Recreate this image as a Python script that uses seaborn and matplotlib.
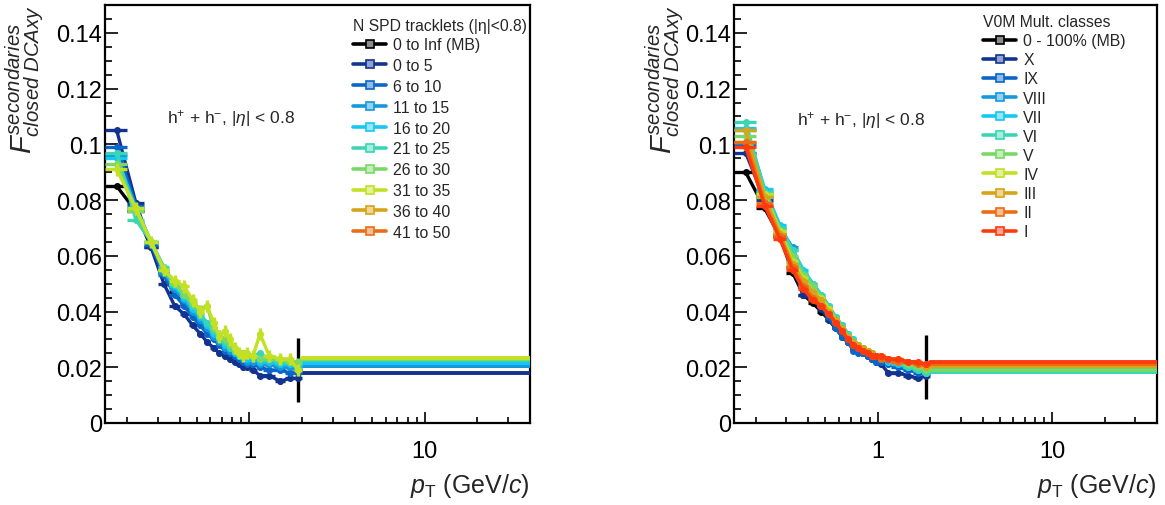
import numpy as np
import pandas as pd
import matplotlib
matplotlib.use("Agg")
import matplotlib.pyplot as plt
import seaborn as sns
from matplotlib.lines import Line2D
from matplotlib.ticker import FixedLocator, MultipleLocator, FuncFormatter, NullFormatter

# ---------------- data ----------------
pt_edges = [0.15, 0.2, 0.25, 0.3, 0.35, 0.4, 0.45, 0.5, 0.55, 0.6, 0.65, 0.7, 0.75,
            0.8, 0.85, 0.9, 0.95, 1.0, 1.1, 1.2, 1.4, 1.6, 1.8, 2.0]
flat_range = [2.0, 40.0]

spd_labels = ["0 to Inf (MB)", "0 to 5", "6 to 10", "11 to 15", "16 to 20", "21 to 25",
              "26 to 30", "31 to 35", "36 to 40", "41 to 50"]
spd_mb   = [0.085, 0.076, 0.063, 0.054, 0.047, 0.043, 0.039, 0.036, 0.033, 0.031, 0.029, 0.027,
            0.026, 0.025, 0.024, 0.023, 0.022, 0.022, 0.021, 0.021, 0.020, 0.020, 0.019]
spd_0_5  = [0.105, 0.079, 0.063, 0.050, 0.042, 0.039, 0.035, 0.032, 0.029, 0.027, 0.025, 0.024,
            0.023, 0.022, 0.021, 0.020, 0.020, 0.019, 0.017, 0.017, 0.015, 0.016, 0.016]
spd_6_10 = [0.099, 0.078, 0.064, 0.053, 0.046, 0.042, 0.038, 0.035, 0.032, 0.030, 0.028, 0.026,
            0.025, 0.024, 0.023, 0.022, 0.021, 0.021, 0.020, 0.019, 0.019, 0.018, 0.018]
spd_11_15 = [0.096, 0.077, 0.065, 0.054, 0.048, 0.044, 0.040, 0.037, 0.034, 0.031, 0.029, 0.027,
             0.026, 0.025, 0.024, 0.023, 0.022, 0.022, 0.021, 0.021, 0.020, 0.020, 0.019]
spd_16_20 = [0.095, 0.077, 0.065, 0.055, 0.049, 0.045, 0.041, 0.038, 0.035, 0.032, 0.030, 0.028,
             0.027, 0.025, 0.024, 0.024, 0.023, 0.023, 0.022, 0.022, 0.021, 0.021, 0.020]
spd_21_25 = [0.097, 0.073, 0.065, 0.056, 0.050, 0.046, 0.042, 0.039, 0.036, 0.033, 0.031, 0.029,
             0.027, 0.026, 0.025, 0.025, 0.024, 0.024, 0.025, 0.023, 0.022, 0.022, 0.021]
spd_26_30 = [0.093, 0.076, 0.065, 0.055, 0.050, 0.046, 0.043, 0.041, 0.042, 0.034, 0.032, 0.030,
             0.028, 0.026, 0.025, 0.025, 0.024, 0.024, 0.023, 0.023, 0.023, 0.022, 0.022]
spd_31_35 = [0.091, 0.077, 0.065, 0.055, 0.051, 0.049, 0.044, 0.040, 0.042, 0.036, 0.031, 0.033,
             0.030, 0.027, 0.025, 0.024, 0.025, 0.024, 0.032, 0.024, 0.023, 0.023, 0.019]
spd_36_40 = []
spd_41_50 = []
spd_flat = [0.0205, 0.0178, 0.0205, 0.0205, 0.0215, 0.0225, 0.0230, 0.0233, None, None]
spd_err  = [0.0008, 0.0010, 0.0009, 0.0008, 0.0008, 0.0010, 0.0012, 0.0022, 0, 0]
mb_last_err = 0.0115

v0m_labels = ["0 - 100% (MB)", "X", "IX", "VIII", "VII", "VI", "V", "IV", "III", "II", "I"]
v0m_mb   = [0.090, 0.077, 0.067, 0.054, 0.046, 0.043, 0.040, 0.037, 0.034, 0.031, 0.029, 0.027,
            0.026, 0.025, 0.024, 0.023, 0.023, 0.022, 0.022, 0.021, 0.021, 0.020, 0.020]
v0m_X    = [0.097, 0.080, 0.067, 0.056, 0.046, 0.044, 0.041, 0.037, 0.034, 0.032, 0.029, 0.027,
            0.026, 0.025, 0.024, 0.023, 0.022, 0.021, 0.018, 0.018, 0.017, 0.016, 0.017]
v0m_IX   = [0.100, 0.081, 0.068, 0.058, 0.050, 0.046, 0.042, 0.038, 0.034, 0.031, 0.029, 0.026,
            0.025, 0.025, 0.024, 0.023, 0.022, 0.022, 0.021, 0.020, 0.019, 0.018, 0.018]
v0m_VIII = [0.105, 0.083, 0.070, 0.063, 0.053, 0.049, 0.045, 0.041, 0.037, 0.035, 0.032, 0.029,
            0.028, 0.027, 0.026, 0.025, 0.024, 0.023, 0.022, 0.021, 0.020, 0.019, 0.018]
v0m_VII  = [0.106, 0.084, 0.071, 0.062, 0.055, 0.050, 0.046, 0.042, 0.038, 0.035, 0.032, 0.030,
            0.028, 0.027, 0.026, 0.025, 0.024, 0.023, 0.022, 0.021, 0.020, 0.019, 0.018]
v0m_VI   = [0.108, 0.083, 0.070, 0.062, 0.054, 0.050, 0.046, 0.042, 0.038, 0.035, 0.032, 0.030,
            0.028, 0.027, 0.026, 0.025, 0.024, 0.024, 0.023, 0.022, 0.020, 0.019, 0.018]
v0m_V    = [0.103, 0.082, 0.069, 0.060, 0.053, 0.049, 0.045, 0.041, 0.037, 0.034, 0.031, 0.029,
            0.028, 0.027, 0.026, 0.025, 0.024, 0.024, 0.023, 0.022, 0.021, 0.020, 0.019]
v0m_IV   = [0.101, 0.082, 0.069, 0.058, 0.052, 0.047, 0.045, 0.041, 0.037, 0.034, 0.031, 0.029,
            0.028, 0.027, 0.026, 0.025, 0.024, 0.024, 0.023, 0.023, 0.022, 0.021, 0.020]
v0m_III  = [0.105, 0.081, 0.068, 0.057, 0.051, 0.047, 0.044, 0.040, 0.037, 0.034, 0.031, 0.029,
            0.028, 0.027, 0.026, 0.025, 0.024, 0.024, 0.023, 0.022, 0.022, 0.021, 0.020]
v0m_II   = [0.101, 0.079, 0.067, 0.056, 0.049, 0.045, 0.042, 0.039, 0.036, 0.033, 0.030, 0.028,
            0.027, 0.026, 0.025, 0.024, 0.024, 0.023, 0.023, 0.022, 0.022, 0.021, 0.021]
v0m_I    = [0.099, 0.078, 0.066, 0.055, 0.048, 0.044, 0.042, 0.039, 0.036, 0.033, 0.030, 0.028,
            0.027, 0.026, 0.025, 0.024, 0.024, 0.024, 0.023, 0.023, 0.022, 0.022, 0.021]
v0m_flat = [0.0195, 0.0190, 0.0185, 0.0185, 0.0183, 0.0183, 0.0190, 0.0205, 0.0205, 0.0210, 0.0220]
v0m_err  = [0.0008, 0.0009, 0.0008, 0.0008, 0.0008, 0.0008, 0.0008, 0.0009, 0.0009, 0.0009, 0.0010]

palette_spd = ["#000000", "#12338f", "#0a66c8", "#1598dc", "#14c8f2", "#3ad6b4",
               "#7ad866", "#c2e024", "#d6a418", "#ec6c16"]
palette_v0m = ["#000000", "#12338f", "#0a66c8", "#1598dc", "#14c8f2", "#3ad6b4",
               "#7ad866", "#c2e024", "#d6a418", "#ec6c16", "#ff3a0e"]

# ---------------- style ----------------
sns.set_theme(style="ticks")
plt.rcParams["font.family"] = ["Liberation Sans", "DejaVu Sans"]
plt.rcParams["mathtext.fontset"] = "custom"
plt.rcParams["mathtext.rm"] = "Liberation Sans"
plt.rcParams["mathtext.it"] = "Liberation Sans:italic"
plt.rcParams["mathtext.bf"] = "Liberation Sans:bold"

edges = np.array(pt_edges)
centers = 0.5 * (edges[1:] + edges[:-1])
halfw = 0.5 * (edges[1:] - edges[:-1])

W, H = 1165, 506
fig = plt.figure(figsize=(W / 100, H / 100), dpi=100)
ax1 = fig.add_axes([105 / W, (H - 424) / H, 425 / W, 418 / H])
ax2 = fig.add_axes([734 / W, (H - 424) / H, 423 / W, 418 / H])


def draw_panel(ax, series, flats, errs, colors, mb_err):
    for i, (vals, flat, err, col) in enumerate(zip(series, flats, errs, colors)):
        if len(vals) == 0:
            continue
        df = pd.DataFrame({"pt": centers, "f": vals})
        sns.lineplot(data=df, x="pt", y="f", ax=ax, color=col, lw=2.4,
                     estimator=None, sort=False, legend=False, zorder=2 + i)
        yerr = np.full(len(vals), err)
        if i == 0:
            yerr[-1] = mb_err
        ax.errorbar(centers, vals, xerr=halfw, yerr=yerr, fmt="o", ms=4,
                    color=col, elinewidth=2.4, capsize=0, zorder=2 + i)
        ax.plot(flat_range, [flat, flat], color=col, lw=2.8, zorder=2 + i)


def style_axes(ax):
    ax.set_xscale("log")
    ax.set_xlim(0.15, 40)
    ax.set_ylim(0, 0.15)
    ax.xaxis.set_major_locator(FixedLocator([1, 10]))
    ax.xaxis.set_minor_locator(FixedLocator([0.2, 0.3, 0.4, 0.5, 0.6, 0.7, 0.8, 0.9,
                                             2, 3, 4, 5, 6, 7, 8, 9, 20, 30]))
    ax.xaxis.set_major_formatter(FuncFormatter(lambda v, p: f"{v:g}"))
    ax.xaxis.set_minor_formatter(NullFormatter())
    ax.yaxis.set_major_locator(MultipleLocator(0.02))
    ax.yaxis.set_minor_locator(MultipleLocator(0.005))
    ax.yaxis.set_major_formatter(FuncFormatter(lambda v, p: f"{v:.2f}".rstrip("0").rstrip(".") if v else "0"))
    ax.tick_params(axis="both", which="both", direction="in", top=False, right=False,
                   labelsize=17, width=1.2, colors="black")
    ax.tick_params(axis="y", which="major", length=9.5, pad=2)
    ax.tick_params(axis="y", which="minor", length=5)
    ax.tick_params(axis="x", which="major", length=8, pad=12)
    ax.tick_params(axis="x", which="minor", length=4.3)
    for s in ax.spines.values():
        s.set_linewidth(1.6)
        s.set_color("black")
        s.set_visible(True)
    ax.set_xlabel("")
    ax.set_ylabel("")
    ax.text(1.0, -0.165, r"$p_{\rm T}$ (GeV/$c$)", transform=ax.transAxes,
            ha="right", va="baseline", fontsize=18)


spd_series = [spd_mb, spd_0_5, spd_6_10, spd_11_15, spd_16_20, spd_21_25,
              spd_26_30, spd_31_35, spd_36_40, spd_41_50]
v0m_series = [v0m_mb, v0m_X, v0m_IX, v0m_VIII, v0m_VII, v0m_VI, v0m_V,
              v0m_IV, v0m_III, v0m_II, v0m_I]

draw_panel(ax1, spd_series, spd_flat, spd_err, palette_spd, mb_last_err)
draw_panel(ax2, v0m_series, v0m_flat, v0m_err, palette_v0m, mb_last_err)
style_axes(ax1)
style_axes(ax2)

ylab = r"$F^{secondaries}_{closed\ DCAxy}$"
fig.text(25 / W, 1 - 5 / H, ylab, rotation=90, ha="center", va="top", fontsize=21)
fig.text(665 / W, 1 - 5 / H, ylab, rotation=90, ha="center", va="top", fontsize=21)

ann = r"h$^{+}$ + h$^{-}$, |$\eta$| < 0.8"
ax1.text(0.146, 0.732, ann, transform=ax1.transAxes, ha="left", va="center", fontsize=12.5)
ax2.text(0.149, 0.727, ann, transform=ax2.transAxes, ha="left", va="center", fontsize=12.5)


def lighten(c, f=0.5):
    rgb = np.array(matplotlib.colors.to_rgb(c))
    return tuple(rgb + (1 - rgb) * f)


def make_legend(ax, labels, colors, title, anchor, spacing):
    handles = [Line2D([], [], color=c, lw=2.6, marker="s", ms=6, mfc=lighten(c, 0.55),
                      mec=c, mew=1.2) for c in colors]
    leg = ax.legend(handles, labels, title=title, loc="upper left",
                    bbox_to_anchor=(anchor[0] / W, 1 - anchor[1] / H),
                    bbox_transform=fig.transFigure, frameon=False, fontsize=11.4,
                    title_fontsize=11.3, handlelength=2.1, handletextpad=0.45,
                    labelspacing=spacing, borderpad=0, borderaxespad=0, handleheight=0.7)
    leg._legend_box.align = "left"
    leg._legend_box.sep = 3
    return leg


make_legend(ax1, spd_labels, palette_spd, "N SPD tracklets (|η|<0.8)", (353, 19), 0.37)
make_legend(ax2, v0m_labels, palette_v0m, "V0M Mult. classes", (983, 15), 0.26)

fig.savefig("out.png", dpi=100)
